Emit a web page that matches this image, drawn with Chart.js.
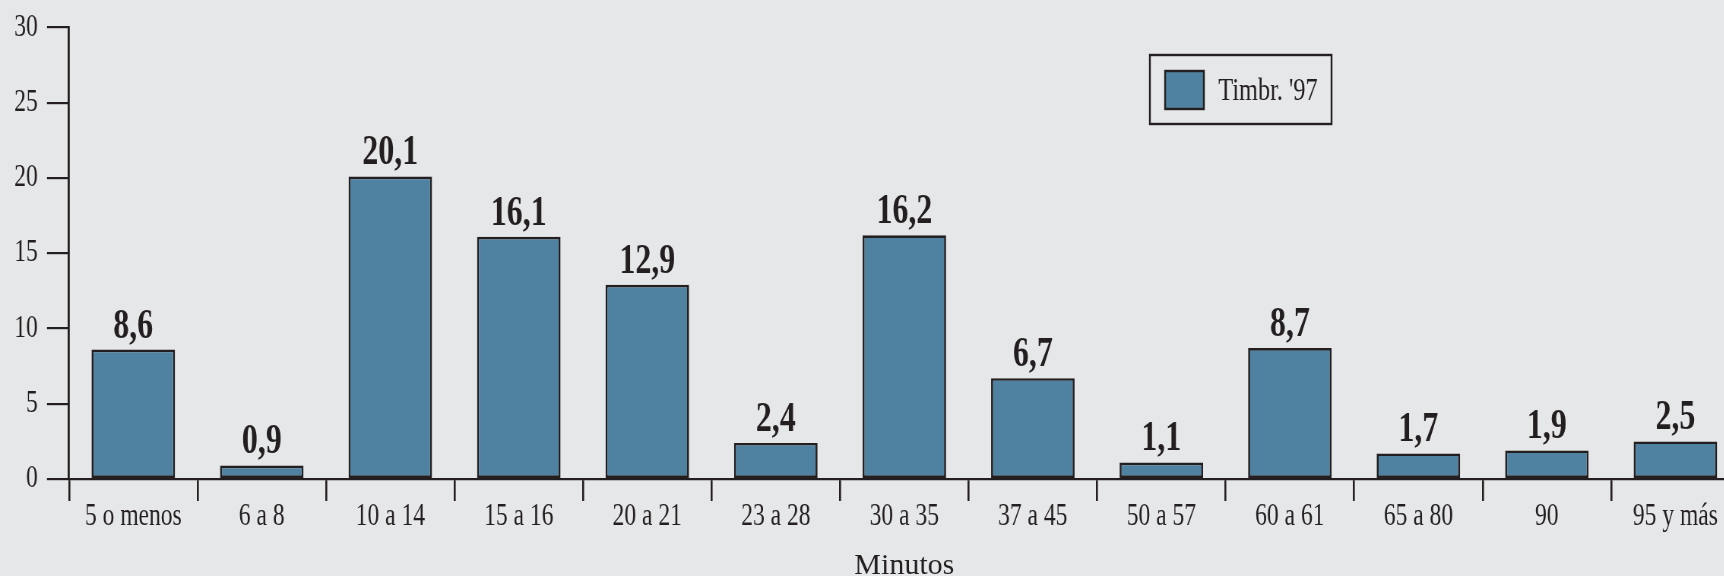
<!DOCTYPE html>
<html>
<head>
<meta charset="utf-8">
<script src="https://cdn.jsdelivr.net/npm/chart.js@4/dist/chart.umd.min.js"></script>
<style>
  html, body { margin: 0; padding: 0; background: #e6e7e9; overflow: hidden; width: 1724px; height: 576px; }
  #wrap { position: absolute; left: 0; top: 0; width: 2289px; height: 576px; transform: scaleX(0.76); transform-origin: 0 0; }
  canvas { display: block; }
</style>
</head>
<body>
<div id="wrap"><canvas id="c" width="2289" height="576"></canvas></div>
<script>
// ---- data ----
const categories = ["5 o menos", "6 a 8", "10 a 14", "15 a 16", "20 a 21", "23 a 28", "30 a 35", "37 a 45", "50 a 57", "60 a 61", "65 a 80", "90", "95 y más"];
const values = [8.6, 0.9, 20.1, 16.1, 12.9, 2.4, 16.2, 6.7, 1.1, 8.7, 1.7, 1.9, 2.5];
const seriesName = "Timbr. '97";
const yTicks = [0, 5, 10, 15, 20, 25, 30];
const xTitle = "Minutos";

// ---- style ----
const S = 0.76;               // horizontal compression of the whole drawing
const INK = '#231f20';
const BAR = '#4f81a1';
const SERIF = '"Liberation Serif", "Times New Roman", serif';

const fmt = v => v.toFixed(1).replace('.', ',');

const valueLabels = {
  id: 'valueLabels',
  afterDatasetsDraw(chart) {
    const ctx = chart.ctx;
    const meta = chart.getDatasetMeta(0);
    ctx.save();
    ctx.font = 'bold 42px ' + SERIF;
    ctx.fillStyle = INK;
    ctx.textAlign = 'center';
    ctx.textBaseline = 'alphabetic';
    meta.data.forEach((bar, i) => {
      ctx.fillText(fmt(chart.data.datasets[0].data[i]), bar.x, bar.y - 12);
    });
    ctx.restore();
  }
};

const boxLegend = {
  id: 'boxLegend',
  afterDraw(chart) {
    const ctx = chart.ctx;
    const ds = chart.data.datasets[0];
    const bx = 1513, by = 55, bw = 239, bh = 69;
    ctx.save();
    ctx.strokeStyle = INK;
    ctx.lineWidth = 2.4;
    ctx.strokeRect(bx, by, bw, bh);
    ctx.fillStyle = ds.backgroundColor;
    ctx.fillRect(bx + 20, by + 16, 51, 38);
    ctx.lineWidth = 2.4;
    ctx.strokeRect(bx + 20, by + 16, 51, 38);
    ctx.fillStyle = INK;
    ctx.font = '32px ' + SERIF;
    ctx.textAlign = 'left';
    ctx.textBaseline = 'alphabetic';
    ctx.fillText(ds.label, bx + 90, by + 45);
    ctx.restore();
  }
};

const axisTitle = {
  id: 'axisTitle',
  afterDraw(chart) {
    const ctx = chart.ctx;
    const a = chart.chartArea;
    ctx.save();
    ctx.scale(1 / S, 1);
    ctx.fillStyle = INK;
    ctx.font = '30px ' + SERIF;
    ctx.textAlign = 'center';
    ctx.textBaseline = 'alphabetic';
    ctx.fillText(xTitle, (a.left + a.right) / 2 * S, 574);
    ctx.restore();
  }
};

new Chart(document.getElementById('c'), {
  type: 'bar',
  data: {
    labels: categories,
    datasets: [{
      label: seriesName,
      data: values,
      backgroundColor: BAR,
      borderColor: INK,
      borderWidth: 2.7,
      borderSkipped: false,
      barPercentage: 0.65,
      categoryPercentage: 1.0
    }]
  },
  options: {
    responsive: false,
    animation: false,
    devicePixelRatio: 1,
    layout: { padding: { top: 25, left: 0, right: 0, bottom: 0 } },
    plugins: {
      legend: { display: false },
      tooltip: { enabled: false }
    },
    scales: {
      x: {
        offset: true,
        grid: {
          display: true,
          offset: true,
          drawOnChartArea: false,
          drawTicks: true,
          tickLength: 22,
          color: INK,
          lineWidth: 2.6
        },
        border: { display: true, color: INK, width: 2.2 },
        ticks: {
          color: INK,
          font: { family: SERIF, size: 31, lineHeight: 1 },
          padding: 0,
          maxRotation: 0,
          autoSkip: false
        },
        title: { display: false },
        afterFit(scale) { scale.height = 97; }
      },
      y: {
        min: 0,
        max: 30,
        afterBuildTicks(scale) { scale.ticks = yTicks.map(v => ({ value: v })); },
        grid: {
          display: true,
          drawOnChartArea: false,
          drawTicks: true,
          tickLength: 29,
          color: INK,
          lineWidth: 2.2
        },
        border: { display: true, color: INK, width: 2.8 },
        ticks: {
          color: INK,
          font: { family: SERIF, size: 31, lineHeight: 1 },
          padding: 12
        },
        afterFit(scale) { scale.width = 90.8; }
      }
    }
  },
  plugins: [valueLabels, boxLegend, axisTitle]
});
</script>
</body>
</html>
